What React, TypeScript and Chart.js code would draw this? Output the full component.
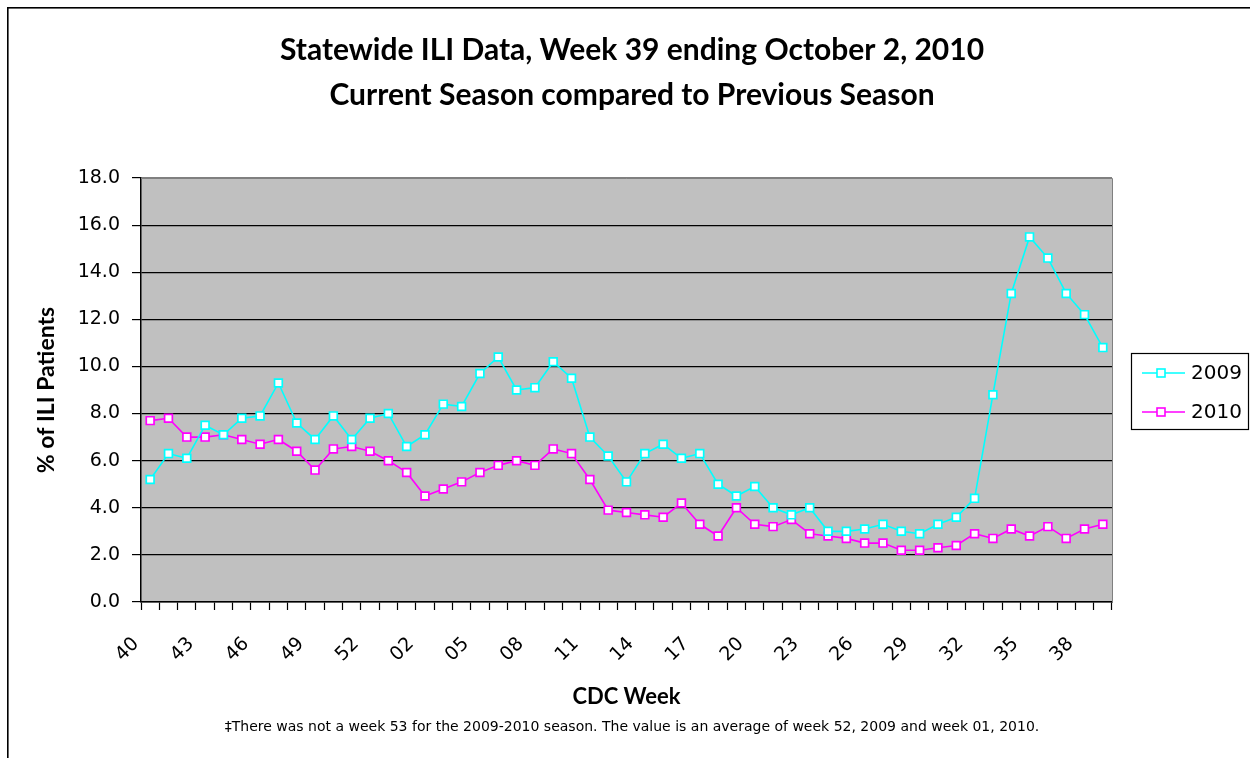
import React, { useEffect, useRef } from 'react';
import { Chart, registerables } from 'chart.js';

Chart.register(...registerables);

const weeks = [
  '40', '41', '42', '43', '44', '45', '46', '47', '48', '49', '50', '51', '52', '53',
  '01', '02', '03', '04', '05', '06', '07', '08', '09', '10', '11', '12', '13', '14',
  '15', '16', '17', '18', '19', '20', '21', '22', '23', '24', '25', '26', '27', '28',
  '29', '30', '31', '32', '33', '34', '35', '36', '37', '38', '39',
];

const season2009 = [
  5.2, 6.3, 6.1, 7.5, 7.1, 7.8, 7.9, 9.3, 7.6, 6.9, 7.9, 6.9, 7.8, 8.0,
  6.6, 7.1, 8.4, 8.3, 9.7, 10.4, 9.0, 9.1, 10.2, 9.5, 7.0, 6.2, 5.1, 6.3,
  6.7, 6.1, 6.3, 5.0, 4.5, 4.9, 4.0, 3.7, 4.0, 3.0, 3.0, 3.1, 3.3, 3.0,
  2.9, 3.3, 3.6, 4.4, 8.8, 13.1, 15.5, 14.6, 13.1, 12.2, 10.8,
];

const season2010 = [
  7.7, 7.8, 7.0, 7.0, 7.1, 6.9, 6.7, 6.9, 6.4, 5.6, 6.5, 6.6, 6.4, 6.0,
  5.5, 4.5, 4.8, 5.1, 5.5, 5.8, 6.0, 5.8, 6.5, 6.3, 5.2, 3.9, 3.8, 3.7,
  3.6, 4.2, 3.3, 2.8, 4.0, 3.3, 3.2, 3.5, 2.9, 2.8, 2.7, 2.5, 2.5, 2.2,
  2.2, 2.3, 2.4, 2.9, 2.7, 3.1, 2.8, 3.2, 2.7, 3.1, 3.3,
];

const seriesLabels = ['2009', '2010'];
const seriesColors = ['#00FFFF', '#FF00FF'];

const titleLines = [
  'Statewide ILI Data, Week 39 ending October 2, 2010',
  'Current Season compared to Previous Season',
];
const yAxisTitle = '% of ILI Patients';
const xAxisTitle = 'CDC Week';
const footnote =
  '\u2021There was not a week 53 for the 2009-2010 season. The value is an average of week 52, 2009 and week 01, 2010.';

const W = 1250;
const H = 758;

const backgroundPlugin = {
  id: 'excelBackground',
  beforeDraw(chart: any) {
    const { ctx, chartArea } = chart;
    ctx.save();
    ctx.fillStyle = '#FFFFFF';
    ctx.fillRect(0, 0, chart.width, chart.height);
    ctx.fillStyle = '#000000';
    ctx.fillRect(7, 7, chart.width - 7, 1.6);
    ctx.fillRect(7, 7, 1.6, chart.height - 7);
    ctx.fillStyle = '#C0C0C0';
    ctx.fillRect(chartArea.left, chartArea.top, chartArea.right - chartArea.left, chartArea.bottom - chartArea.top);
    ctx.restore();
  },
  beforeDatasetsDraw(chart: any) {
    const { ctx, chartArea } = chart;
    ctx.save();
    ctx.strokeStyle = '#808080';
    ctx.lineWidth = 1;
    ctx.beginPath();
    ctx.moveTo(chartArea.left, Math.round(chartArea.top) + 0.5);
    ctx.lineTo(Math.round(chartArea.right) + 0.5, Math.round(chartArea.top) + 0.5);
    ctx.lineTo(Math.round(chartArea.right) + 0.5, chartArea.bottom);
    ctx.stroke();
    ctx.restore();
  },
};

const legendPlugin = {
  id: 'excelLegend',
  afterDraw(chart: any) {
    const { ctx } = chart;
    const boxX = 1131;
    const boxY = 353;
    const boxW = 117;
    const boxH = 76;
    ctx.save();
    ctx.fillStyle = '#FFFFFF';
    ctx.fillRect(boxX, boxY, boxW, boxH);
    ctx.strokeStyle = '#000000';
    ctx.lineWidth = 1.2;
    ctx.strokeRect(boxX + 0.5, boxY + 0.5, boxW, boxH);
    chart.data.datasets.forEach((ds: any, i: number) => {
      const y = 373 + i * 39;
      ctx.strokeStyle = ds.borderColor;
      ctx.lineWidth = 1.6;
      ctx.beginPath();
      ctx.moveTo(1142, y);
      ctx.lineTo(1185, y);
      ctx.stroke();
      ctx.fillStyle = '#FFFFFF';
      ctx.fillRect(1157, y - 4, 8, 8);
      ctx.strokeRect(1157, y - 4, 8, 8);
      ctx.fillStyle = '#000000';
      ctx.font = '20px "DejaVu Sans"';
      ctx.textAlign = 'left';
      ctx.textBaseline = 'middle';
      ctx.fillText(ds.label, 1191, y + 1);
    });
    ctx.restore();
  },
};

export default function App() {
  const canvasRef = useRef<HTMLCanvasElement | null>(null);

  useEffect(() => {
    if (!canvasRef.current) return;
    const datasets = [season2009, season2010].map((values, i) => ({
      label: seriesLabels[i],
      data: values,
      borderColor: seriesColors[i],
      backgroundColor: '#FFFFFF',
      borderWidth: 1.6,
      pointStyle: 'rect' as const,
      pointRadius: 5.5,
      pointBorderWidth: 1.7,
      pointBackgroundColor: '#FFFFFF',
      pointBorderColor: seriesColors[i],
      tension: 0,
      fill: false,
    }));

    const chart = new Chart(canvasRef.current, {
      type: 'line',
      data: { labels: weeks, datasets },
      options: {
        animation: false,
        responsive: false,
        devicePixelRatio: 1,
        layout: { padding: { left: 14, right: 0, top: 0, bottom: 0 } },
        plugins: {
          legend: { display: false },
          tooltip: { enabled: false },
          title: {
            display: true,
            text: titleLines,
            color: '#000000',
            font: { family: 'Lato', size: 30, weight: 'bold', lineHeight: 45 / 30 },
            padding: { top: 28, bottom: 60 },
          },
          subtitle: {
            display: true,
            position: 'bottom',
            text: footnote,
            color: '#000000',
            font: { family: '"DejaVu Sans"', size: 14, lineHeight: 1.2 },
            padding: { top: 4, bottom: 22.6 },
          },
        },
        scales: {
          x: {
            type: 'category',
            offset: true,
            afterFit: (scale: any) => {
              scale.height = 112.6;
            },
            grid: {
              display: true,
              drawOnChartArea: false,
              drawTicks: true,
              tickLength: 8,
              tickColor: '#000000',
              tickWidth: 1.2,
              offset: true,
            },
            border: { display: true, color: '#000000', width: 1.5 },
            ticks: {
              autoSkip: false,
              minRotation: 45,
              maxRotation: 45,
              labelOffset: -14,
              padding: 23,
              color: '#000000',
              font: { family: '"DejaVu Sans"', size: 19 },
              callback: (_v: any, idx: number) => (idx % 3 === 0 ? weeks[idx] : ''),
            },
            title: {
              display: true,
              text: xAxisTitle,
              color: '#000000',
              font: { family: 'Lato', size: 22, weight: 'bold', lineHeight: 1.2 },
              padding: { top: 0, bottom: 4.4 },
            },
          },
          y: {
            type: 'linear',
            position: 'left',
            min: 0,
            max: 18,
            afterFit: (scale: any) => {
              scale.width = 127;
            },
            grid: {
              color: (c: any) => (c.tick && c.tick.value === 18 ? '#808080' : '#000000'),
              lineWidth: 1.2,
              drawTicks: true,
              tickLength: 9,
              tickColor: '#000000',
              tickWidth: 1.2,
            },
            border: { display: true, color: '#000000', width: 1.5 },
            ticks: {
              stepSize: 2,
              padding: 12,
              color: '#000000',
              font: { family: '"DejaVu Sans"', size: 19 },
              callback: (v: any) => Number(v).toFixed(1),
            },
            title: {
              display: true,
              text: yAxisTitle,
              color: '#000000',
              font: { family: 'Lato', size: 23, weight: 'bold', lineHeight: 1.2 },
              padding: { top: 19.2, bottom: 0 },
            },
          },
          spacer: {
            type: 'linear',
            position: 'right',
            display: true,
            afterFit: (scale: any) => {
              scale.width = 138;
            },
            grid: { display: false, drawTicks: false },
            border: { display: false },
            ticks: { display: false },
          },
        },
      },
      plugins: [backgroundPlugin, legendPlugin],
    });

    return () => chart.destroy();
  }, []);

  return (
    <div style={{ position: 'fixed', left: 0, top: 0, width: W, height: H, background: '#FFFFFF' }}>
      <canvas ref={canvasRef} width={W} height={H} style={{ width: W, height: H, display: 'block' }} />
    </div>
  );
}
